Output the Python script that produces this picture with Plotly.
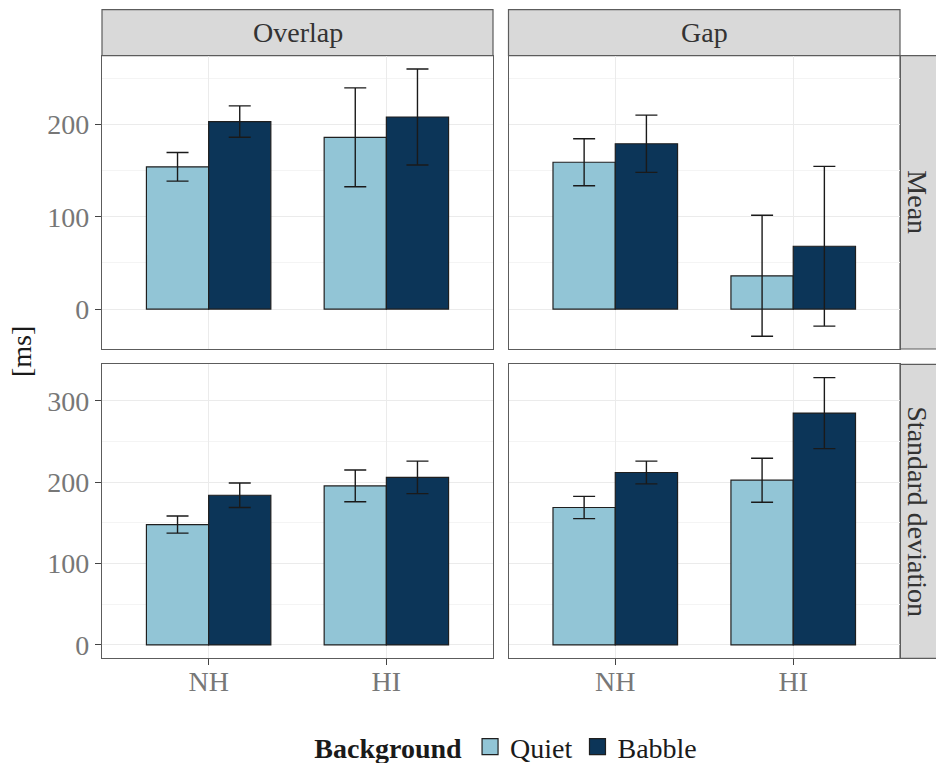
import plotly.graph_objects as go

# ---- data ----
groups = ["NH", "HI"]
backgrounds = ["Quiet", "Babble"]

mean_overlap_quiet = [154, 186]
mean_overlap_babble = [203, 208]
mean_overlap_quiet_err = [15.5, 53.5]
mean_overlap_babble_err = [17, 52]

mean_gap_quiet = [159, 36]
mean_gap_babble = [179, 68]
mean_gap_quiet_err = [25.5, 65.5]
mean_gap_babble_err = [31, 86.5]

sd_overlap_quiet = [148, 195.5]
sd_overlap_babble = [184, 206]
sd_overlap_quiet_err = [10.5, 19.5]
sd_overlap_babble_err = [15, 20]

sd_gap_quiet = [169, 202.5]
sd_gap_babble = [212, 285]
sd_gap_quiet_err = [13.7, 27]
sd_gap_babble_err = [14, 43.6]

col_labels = ["Overlap", "Gap"]
row_labels = ["Mean", "Standard deviation"]
mean_ticks = [0, 100, 200]
sd_ticks = [0, 100, 200, 300]

# ---- style ----
W, H = 936, 763
FONT = "Liberation Serif, Times New Roman, DejaVu Serif, serif"
FS = 28
colors = {"Quiet": "#92C5D6", "Babble": "#0C3558"}
outline = "#1f1f1f"
border = "#5c5c5c"
tickgray = "#777777"

def px_x(p):
    return p / W

def px_y(p):
    return 1 - p / H

colx = [(102, 493), (508.5, 900)]
rowy = [(55.7, 349), (364.3, 658.3)]

fig = go.Figure()

panels = [
    (0, 0, mean_overlap_quiet, mean_overlap_babble, mean_overlap_quiet_err, mean_overlap_babble_err),
    (0, 1, mean_gap_quiet, mean_gap_babble, mean_gap_quiet_err, mean_gap_babble_err),
    (1, 0, sd_overlap_quiet, sd_overlap_babble, sd_overlap_quiet_err, sd_overlap_babble_err),
    (1, 1, sd_gap_quiet, sd_gap_babble, sd_gap_quiet_err, sd_gap_babble_err),
]

for r, c, q, b, qe, be in panels:
    idx = r * 2 + c + 1
    xa = "x" if idx == 1 else f"x{idx}"
    ya = "y" if idx == 1 else f"y{idx}"
    for name, vals, err in (("Quiet", q, qe), ("Babble", b, be)):
        fig.add_trace(go.Bar(
            x=groups, y=vals, name=name, xaxis=xa, yaxis=ya,
            marker=dict(color=colors[name], line=dict(color=outline, width=1.2)),
            error_y=dict(type="data", array=err, visible=True, color="#1a1a1a",
                         thickness=1.4, width=11),
            legendgroup=name, showlegend=False,
        ))

for name in backgrounds:
    fig.add_trace(go.Scatter(
        x=[None], y=[None], mode="markers", name=name, legendgroup=name,
        marker=dict(symbol="square", size=22, color=colors[name],
                    line=dict(color=outline, width=1.2)),
        showlegend=True, xaxis="x", yaxis="y", hoverinfo="skip",
    ))

layout = dict(
    width=W, height=H, autosize=False,
    margin=dict(l=0, r=0, t=0, b=0, autoexpand=False),
    paper_bgcolor="white", plot_bgcolor="white",
    font=dict(family=FONT, size=FS, color="#333333"),
    barmode="group", bargap=0.3, bargroupgap=0,
    showlegend=True,
    legend=dict(
        orientation="h", x=0.542, xanchor="center",
        yref="container", y=px_y(747), yanchor="middle",
        title=dict(text="<b>Background</b>", side="left", font=dict(size=FS, color="#1a1a1a")),
        font=dict(size=FS, color="#1a1a1a"), itemwidth=30, traceorder="normal",
        bgcolor="rgba(0,0,0,0)", itemsizing="trace",
    ),
)

yranges = [(-43.3, 274.4), (-16.4, 345)]
yticks = [mean_ticks, sd_ticks]
minor_grid = dict(showgrid=True, gridcolor="#F4F4F4", gridwidth=0.6, dtick=50, ticks="")

for r in range(2):
    for c in range(2):
        idx = r * 2 + c + 1
        xk = "xaxis" if idx == 1 else f"xaxis{idx}"
        yk = "yaxis" if idx == 1 else f"yaxis{idx}"
        xa = "x" if idx == 1 else f"x{idx}"
        ya = "y" if idx == 1 else f"y{idx}"
        layout[xk] = dict(
            domain=[px_x(colx[c][0]), px_x(colx[c][1])], anchor=ya,
            type="category", range=[-0.6, 1.6],
            showgrid=True, gridcolor="#EBEBEB", gridwidth=1.2,
            showline=True, mirror=True, linecolor=border, linewidth=1.2,
            ticks="outside" if r == 1 else "", ticklen=6, tickcolor="#444444", tickwidth=1.2,
            showticklabels=(r == 1), ticklabelstandoff=-8,
            tickfont=dict(size=FS, color=tickgray),
            zeroline=False, fixedrange=True,
        )
        layout[yk] = dict(
            domain=[px_y(rowy[r][1]), px_y(rowy[r][0])], anchor=xa,
            range=list(yranges[r]), tickmode="array", tickvals=yticks[r],
            showgrid=True, gridcolor="#EBEBEB", gridwidth=1.2,
            minor=minor_grid,
            showline=True, mirror=True, linecolor=border, linewidth=1.2,
            ticks="outside" if c == 0 else "", ticklen=6, tickcolor="#444444", tickwidth=1.2,
            showticklabels=(c == 0),
            tickfont=dict(size=FS, color=tickgray),
            zeroline=False, fixedrange=True,
        )

shapes = []
annotations = []
strip_fill = "#D9D9D9"
for c, lab in enumerate(col_labels):
    x0, x1 = colx[c]
    shapes.append(dict(type="rect", xref="paper", yref="paper",
                       x0=px_x(x0), x1=px_x(x1), y0=px_y(55.7), y1=px_y(9.7),
                       fillcolor=strip_fill, line=dict(color=border, width=1.2), layer="below"))
    annotations.append(dict(text=lab, xref="paper", yref="paper",
                            x=px_x((x0 + x1) / 2), y=px_y(32.7), showarrow=False,
                            xanchor="center", yanchor="middle",
                            font=dict(size=FS, color="#333333")))
for r, lab in enumerate(row_labels):
    y0, y1 = rowy[r]
    shapes.append(dict(type="rect", xref="paper", yref="paper",
                       x0=px_x(900), x1=px_x(937), y0=px_y(y1), y1=px_y(y0),
                       fillcolor=strip_fill, line=dict(color=border, width=1.2), layer="below"))
    annotations.append(dict(text=lab, xref="paper", yref="paper",
                            x=px_x(918), y=px_y((y0 + y1) / 2), showarrow=False,
                            textangle=90, xanchor="center", yanchor="middle",
                            font=dict(size=FS, color="#333333")))
annotations.append(dict(text="[ms]", xref="paper", yref="paper",
                        x=px_x(22), y=px_y(352), showarrow=False, textangle=-90,
                        xanchor="center", yanchor="middle",
                        font=dict(size=FS, color="#1a1a1a")))

layout["shapes"] = shapes
layout["annotations"] = annotations
fig.update_layout(**layout)

fig.write_html(
    "out.html",
    config={"displayModeBar": False},
    post_script="document.body.style.margin='0';document.body.style.overflow='hidden';",
)
